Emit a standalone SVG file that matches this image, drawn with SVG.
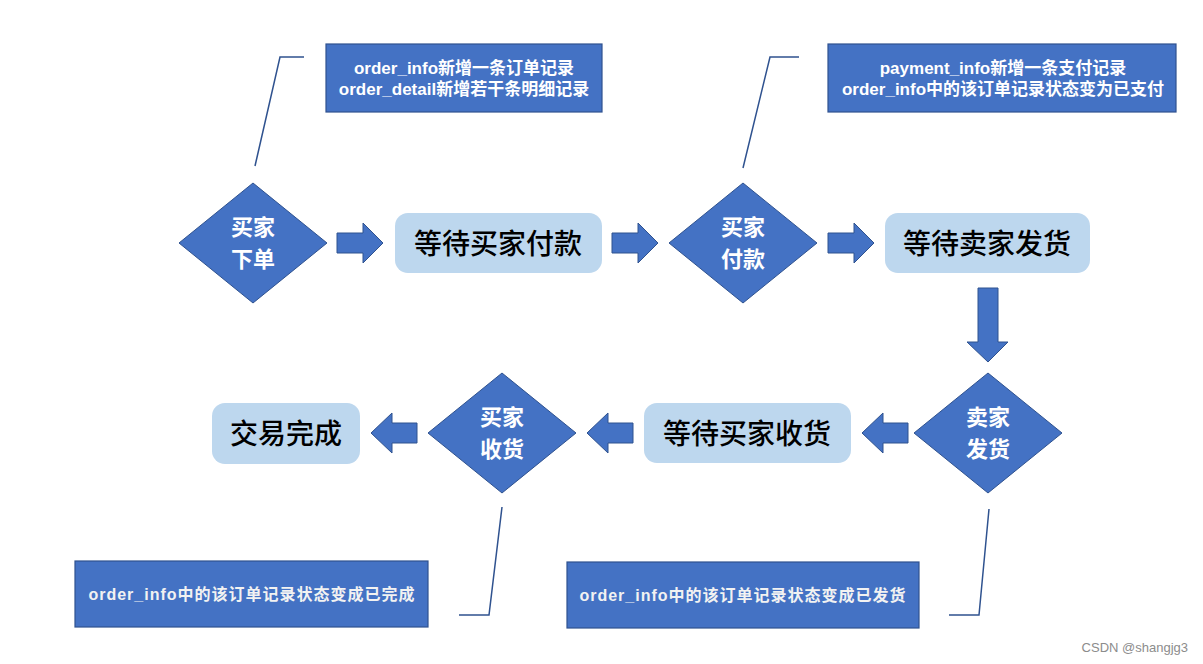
<svg xmlns="http://www.w3.org/2000/svg" width="1203" height="664" viewBox="0 0 1203 664">
<style>
.dia{fill:#4472C4;stroke:#2F528F;stroke-width:1}
.box{fill:#BDD7EE;stroke:none}
.note{fill:#4472C4;stroke:#2F528F;stroke-width:1.2}
.arr{fill:#4472C4;stroke:#2F528F;stroke-width:1}
.lead{fill:none;stroke:#2F528F;stroke-width:1.5}
.dt{font-family:"Noto Sans CJK SC",sans-serif;font-size:22px;font-weight:bold;fill:#fff;text-anchor:middle}
.bt{font-family:"Noto Sans CJK SC",sans-serif;font-size:28px;font-weight:500;fill:#000;text-anchor:middle;dominant-baseline:central}
.nt{font-family:"Liberation Sans","Noto Sans CJK SC",sans-serif;font-size:17px;font-weight:bold;fill:#fff;text-anchor:middle}
.nt2{font-family:"Liberation Sans","Noto Sans CJK SC",sans-serif;font-size:16px;font-weight:bold;fill:#F2F2F2;text-anchor:middle;dominant-baseline:central;letter-spacing:1px}
.wm{font-family:"Liberation Sans",sans-serif;font-size:13px;fill:#8C8C8C;text-anchor:end}
</style>
<rect width="1203" height="664" fill="#fff"/>
<g id="connectors">
<path class="arr" d="M337,233 H363 V223 L383,243 L363,263 V253 H337 Z"/>
<path class="arr" d="M612,233 H638 V223 L658,243 L638,263 V253 H612 Z"/>
<path class="arr" d="M828,233 H854 V223 L874,243 L854,263 V253 H828 Z"/>
<path class="arr" d="M978,288 H998 V342 H1008 L988,362 L967,342 H978 Z"/>
<path class="arr" d="M908,423 H883 V413 L862,433 L883,453 V443 H908 Z"/>
<path class="arr" d="M633,423 H608 V413 L587,433 L608,453 V443 H633 Z"/>
<path class="arr" d="M417,423 H392 V413 L371,433 L392,453 V443 H417 Z"/>
<path class="lead" d="M255,166 L280,57 H304"/>
<path class="lead" d="M743,168 L770,57 H799"/>
<path class="lead" d="M502,507 L489,615 H459"/>
<path class="lead" d="M989,509 L979,615 H949"/>
</g>
<g id="n-buyer-order">
<path class="dia" d="M253,183 L327,243 L253,303 L179,243 Z"/>
<text class="dt" x="253" y="235">买家<tspan x="253" dy="32">下单</tspan></text>
</g>
<g id="n-wait-pay">
<rect class="box" x="395" y="213" width="207" height="60" rx="13"/>
<text class="bt" x="498" y="242">等待买家付款</text>
</g>
<g id="n-buyer-pay">
<path class="dia" d="M743,183 L817,243 L743,303 L669,243 Z"/>
<text class="dt" x="743" y="235">买家<tspan x="743" dy="32">付款</tspan></text>
</g>
<g id="n-wait-ship">
<rect class="box" x="885" y="213" width="205" height="60" rx="13"/>
<text class="bt" x="987" y="242">等待卖家发货</text>
</g>
<g id="n-seller-ship">
<path class="dia" d="M988,373 L1062,433 L988,493 L914,433 Z"/>
<text class="dt" x="988" y="425">卖家<tspan x="988" dy="32">发货</tspan></text>
</g>
<g id="n-wait-receive">
<rect class="box" x="644" y="403" width="207" height="60" rx="13"/>
<text class="bt" x="747" y="432">等待买家收货</text>
</g>
<g id="n-buyer-receive">
<path class="dia" d="M502,373 L576,433 L502,493 L428,433 Z"/>
<text class="dt" x="502" y="425">买家<tspan x="502" dy="32">收货</tspan></text>
</g>
<g id="n-done">
<rect class="box" x="212" y="403" width="148" height="61" rx="13"/>
<text class="bt" x="286" y="432">交易完成</text>
</g>
<g id="note-order">
<rect class="note" x="326" y="44" width="276" height="68"/>
<text class="nt" x="464" y="74">order_info新增一条订单记录<tspan x="464" dy="21">order_detail新增若干条明细记录</tspan></text>
</g>
<g id="note-pay">
<rect class="note" x="828" y="44" width="348" height="68"/>
<text class="nt" x="1003" y="74">payment_info新增一条支付记录<tspan x="1003" dy="21">order_info中的该订单记录状态变为已支付</tspan></text>
</g>
<g id="note-done">
<rect class="note" x="75" y="561" width="353" height="66"/>
<text class="nt2" x="252" y="594">order_info中的该订单记录状态变成已完成</text>
</g>
<g id="note-ship">
<rect class="note" x="567" y="562" width="352" height="66"/>
<text class="nt2" x="743" y="595">order_info中的该订单记录状态变成已发货</text>
</g>
<text class="wm" x="1188" y="652">CSDN @shangjg3</text>
</svg>
